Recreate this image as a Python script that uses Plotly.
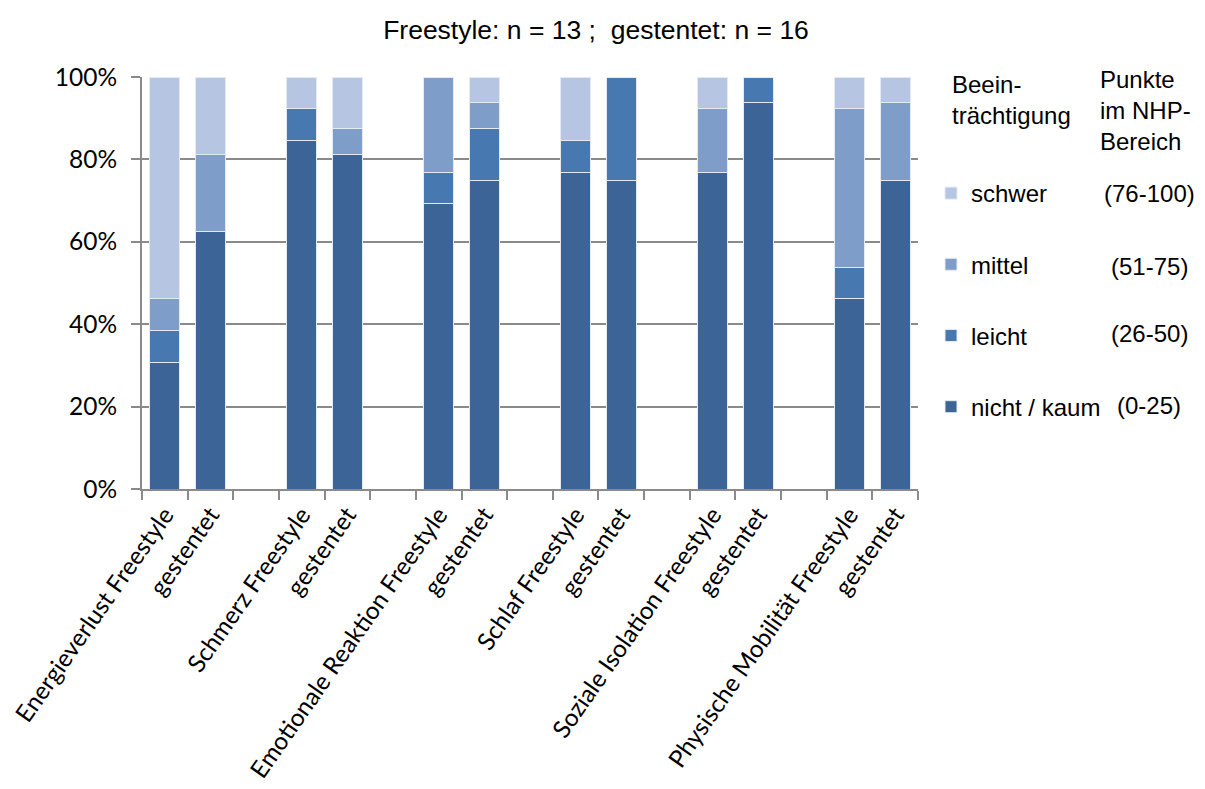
import plotly.graph_objects as go

# ---- data (percent of patients per bar) ----
groups = ["Energieverlust", "Schmerz", "Emotionale Reaktion", "Schlaf",
          "Soziale Isolation", "Physische Mobilität"]
bar_labels = []
for g in groups:
    bar_labels += [g + " Freestyle", "gestentet"]

nicht_kaum = [30.77, 62.5, 84.62, 81.25, 69.23, 75.0, 76.92, 75.0, 76.92, 93.75, 46.15, 75.0]
leicht     = [7.69, 0.0, 7.69, 0.0, 7.69, 12.5, 7.69, 25.0, 0.0, 6.25, 7.69, 0.0]
mittel     = [7.69, 18.75, 0.0, 6.25, 23.08, 6.25, 0.0, 0.0, 15.38, 0.0, 38.46, 18.75]
schwer     = [53.85, 18.75, 7.69, 12.5, 0.0, 6.25, 15.39, 0.0, 7.7, 0.0, 7.7, 6.25]

series_names = ["nicht / kaum", "leicht", "mittel", "schwer"]
series_ranges = ["(0-25)", "(26-50)", "(51-75)", "(76-100)"]
series_values = [nicht_kaum, leicht, mittel, schwer]
series_colors = ["#3d6497", "#4878b0", "#7f9dc9", "#b6c5e1"]

y_ticks = [0, 20, 40, 60, 80, 100]
y_ticktext = ["0%", "20%", "40%", "60%", "80%", "100%"]

# x slot positions: two bars per group, one empty slot between groups
x_pos = []
for gi in range(len(groups)):
    x_pos += [3 * gi, 3 * gi + 1]

fig = go.Figure()
n_series = len(series_names)
for i, (name, vals, col) in enumerate(zip(series_names, series_values, series_colors)):
    fig.add_trace(go.Bar(
        x=x_pos, y=vals, name=name, width=0.66,
        marker=dict(color=col, line=dict(color="#e4e9f2", width=1)),
        legendgroup=name, legendrank=n_series - i,
    ))

grid_col = "#8a8a8a"
label_font = "Lato, Carlito, Calibri"
arial = "Liberation Sans, Arial"
fig.update_layout(
    barmode="stack",
    width=1205, height=789,
    margin=dict(l=142, r=287, t=77, b=300),
    plot_bgcolor="white", paper_bgcolor="white",
    title=dict(text="Freestyle: n = 13 ;\u00a0\u00a0gestentet: n = 16",
               x=596 / 1205, xref="container", xanchor="center",
               y=1 - 30 / 789, yref="container", yanchor="middle",
               font=dict(family=arial, size=26.5, color="black")),
    xaxis=dict(
        range=[-0.5, 16.5], tickmode="array", tickvals=x_pos, ticktext=bar_labels,
        tickangle=-55, ticks="", showgrid=False, zeroline=False, automargin=False,
        showline=True, linecolor=grid_col, linewidth=2,
        tickfont=dict(family=label_font, size=24.3, color="black"),
        minor=dict(ticks="outside", ticklen=9, tick0=0.5, dtick=1,
                   tickcolor=grid_col, tickwidth=2, showgrid=False),
    ),
    yaxis=dict(
        range=[0, 100], tickmode="array", tickvals=y_ticks, ticktext=y_ticktext,
        showgrid=True, gridcolor=grid_col, gridwidth=2, zeroline=False, automargin=False,
        showline=True, linecolor=grid_col, linewidth=2,
        ticks="outside", ticklen=9, tickcolor=grid_col, tickwidth=2,
        ticklabelstandoff=9,
        tickfont=dict(family=label_font, size=24.5, color="black"),
    ),
    legend=dict(
        x=(931 - 142) / 776, xanchor="left", y=(489 - 171) / 412, yanchor="top",
        traceorder="grouped", tracegroupgap=37,
        font=dict(family=arial, size=24, color="black"),
        bgcolor="rgba(0,0,0,0)",
    ),
    showlegend=True,
)

ann_font = dict(family=arial, size=24, color="black")
row_y = {"(76-100)": 193, "(51-75)": 266, "(26-50)": 333, "(0-25)": 405}
for r in series_ranges:
    fig.add_annotation(text=r, x=(1149 - 142) / 776, xref="paper", xanchor="center",
                       y=(489 - row_y[r]) / 412, yref="paper", yanchor="middle",
                       showarrow=False, font=ann_font)

fig.add_annotation(text="Beein-<br>trächtigung", x=(950 - 142) / 776, xref="paper",
                   xanchor="left", align="left", y=(489 - 100) / 412, yref="paper",
                   yanchor="middle", showarrow=False, font=ann_font)
fig.add_annotation(text="Punkte<br>im NHP-<br>Bereich", x=(1098 - 142) / 776, xref="paper",
                   xanchor="left", align="left", y=(489 - 111) / 412, yref="paper",
                   yanchor="middle", showarrow=False, font=ann_font)

fig.write_html("out.html")
